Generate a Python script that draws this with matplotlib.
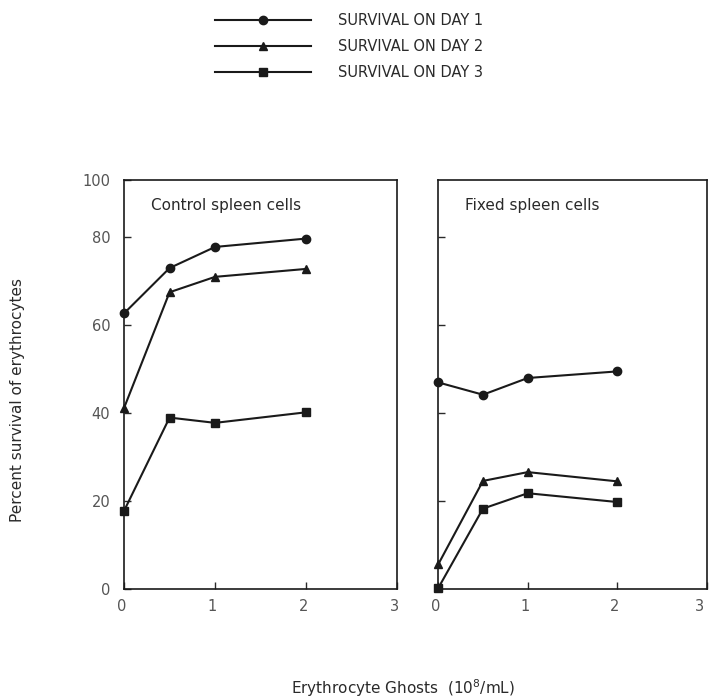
import matplotlib
matplotlib.use("Agg")
import matplotlib.pyplot as plt
import matplotlib.transforms as mtrans
import numpy as np

# ghost concentration (10^8/mL)
ghosts = [0, 0.5, 1, 2]

# percent survival, control spleen cells
control_day1 = [62.7, 73.0, 77.8, 79.7]
control_day2 = [41.2, 67.5, 71.0, 72.8]
control_day3 = [17.8, 39.0, 37.8, 40.2]

# percent survival, fixed spleen cells
fixed_day1 = [47.0, 44.2, 48.0, 49.5]
fixed_day2 = [5.6, 24.6, 26.6, 24.5]
fixed_day3 = [0.2, 18.3, 21.8, 19.8]

day_labels = ["SURVIVAL ON DAY 1", "SURVIVAL ON DAY 2", "SURVIVAL ON DAY 3"]
markers = ["o", "^", "s"]
panel_titles = ["Control spleen cells", "Fixed spleen cells"]

ink = "#2a2a2a"
plt.rcParams["font.family"] = "DejaVu Sans"

fig = plt.figure(figsize=(7.09, 6.98), dpi=100)
ax_c = fig.add_axes([0.175, 0.156, 0.385, 0.586])
ax_f = fig.add_axes([0.618, 0.156, 0.379, 0.586])

handles = []
for ax, series, title in [(ax_c, [control_day1, control_day2, control_day3], panel_titles[0]),
                          (ax_f, [fixed_day1, fixed_day2, fixed_day3], panel_titles[1])]:
    for vals, mk in zip(series, markers):
        ln, = ax.plot(ghosts, vals, color="#1a1a1a", lw=1.5, marker=mk, ms=6,
                      clip_on=False, zorder=3)
        if ax is ax_c:
            handles.append(ln)
    ax.set_xlim(0, 3)
    ax.set_ylim(0, 93)
    ax.set_xticks([0, 1, 2, 3])
    ax.tick_params(direction="in", length=5, width=1, colors=ink, labelsize=10.5,
                   labelcolor="#555555", pad=7)
    for sp in ax.spines.values():
        sp.set_linewidth(1.2)
        sp.set_color("#1a1a1a")
    ax.text(0.1, 0.955, title, transform=ax.transAxes, fontsize=11, color=ink,
            va="top", ha="left")
    # x tick labels sit a little left of their ticks
    shift = mtrans.ScaledTranslation(-2 / 72, 0, fig.dpi_scale_trans)
    for lbl in ax.get_xticklabels():
        lbl.set_transform(lbl.get_transform() + shift)

ax_c.set_yticks([0, 20, 40, 60, 80, 93])
ax_c.set_yticklabels(["0", "20", "40", "60", "80", "100"])
ax_c.tick_params(axis="y", pad=10)
ax_f.set_yticks([20, 40, 60, 80])
ax_f.set_yticklabels([])
ax_f.get_xticklabels()[-1].set_horizontalalignment("right")

fig.legend(handles, day_labels, loc="upper left", bbox_to_anchor=(0.285, 1.0),
           frameon=False, fontsize=10.5, handlelength=6.6, handletextpad=1.8,
           labelspacing=0.75, numpoints=1, labelcolor=ink)

fig.text(18 / 709, 1 - 400 / 698, "Percent survival of erythrocytes", rotation=90,
         ha="center", va="center", fontsize=11, color=ink)
fig.text(403 / 709, 1 - 688 / 698, "Erythrocyte Ghosts  (10$^8$/mL)",
         ha="center", va="center", fontsize=11, color=ink)

fig.savefig("out.png", dpi=100)
